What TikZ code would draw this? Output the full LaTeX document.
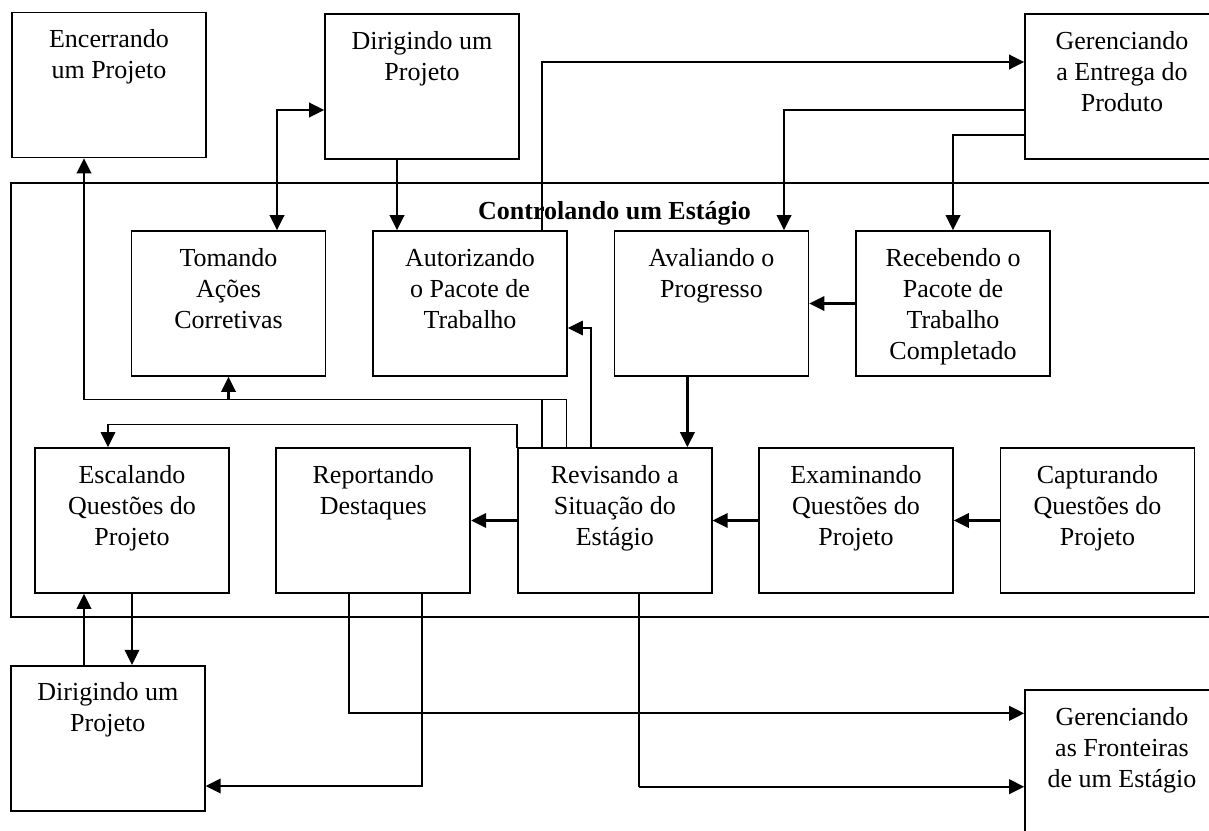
\documentclass[tikz,border=0pt]{standalone}
\usepackage{fontspec}
\setmainfont{Liberation Serif}
\usetikzlibrary{arrows.meta}
% top-aligned, centred text block filling a process box
\newcommand\boxlines[1]{\parbox[c][145pt][t]{194pt}{\centering\rule{0pt}{35pt}#1}}
\begin{document}
\begin{tikzpicture}[x=1pt,y=-1pt,
  box/.style={draw, line width=1.7pt, inner sep=0pt},
  link/.style={line width=1.4pt, line cap=rect},
  flow/.style={line width=2.2pt},
  tip/.style={-{Triangle[length=15pt,width=14.5pt]}},
  tips/.style={{Triangle[length=15pt,width=14.5pt]}-{Triangle[length=15pt,width=14.5pt]}},
  every node/.style={font=\fontsize{26}{31}\selectfont}]
\useasboundingbox (0,0) rectangle (1209,830);
\clip (0,0) rectangle (1209,830);

% stage frame
\draw[line width=1.7pt] (10.7,183) rectangle (1240,617.3);
\node[anchor=base] (title) at (614.5,219.5) {\bfseries Controlando um Estágio};

% processes
\node[box] (enc)  at (109,85)      {\boxlines{Encerrando\\um Projeto}};
\node[box] (dirT) at (422,86.5)    {\boxlines{Dirigindo um\\Projeto}};
\node[box] (gerE) at (1122,86.5)   {\boxlines{Gerenciando\\a Entrega do\\Produto}};
\node[box] (tom)  at (228.5,303.5) {\boxlines{Tomando\\Ações\\Corretivas}};
\node[box] (aut)  at (470,303.5)   {\boxlines{Autorizando\\o Pacote de\\Trabalho}};
\node[box] (ava)  at (711.5,303.5) {\boxlines{Avaliando o\\Progresso}};
\node[box] (rec)  at (953,303.5)   {\boxlines{Recebendo o\\Pacote de\\Trabalho\\Completado}};
\node[box] (esc)  at (132,520.5)   {\boxlines{Escalando\\Questões do\\Projeto}};
\node[box] (rep)  at (373.3,520.5) {\boxlines{Reportando\\Destaques}};
\node[box] (rev)  at (614.8,520.5) {\boxlines{Revisando a\\Situação do\\Estágio}};
\node[box] (exa)  at (856,520.5)   {\boxlines{Examinando\\Questões do\\Projeto}};
\node[box] (cap)  at (1097.5,520.5){\boxlines{Capturando\\Questões do\\Projeto}};
\node[box] (dirB) at (107.8,738.2) {\boxlines{Dirigindo um\\Projeto}};
\node[box] (fro)  at (1122,762.5)  {\boxlines{Gerenciando\\as Fronteiras\\de um Estágio}};

% routing points
\coordinate (authDrop) at (397,0);
\coordinate (corrBend) at (277,110);
\coordinate (deliv)    at (542,62);
\coordinate (assessB)  at (784,110);
\coordinate (recvB)    at (953,135);
\coordinate (revIn)    at (687.4,0);
\coordinate (revAut)   at (591,328);
\coordinate (retA)     at (566.5,399.3);
\coordinate (retB)     at (542,399.3);
\coordinate (retEnd)   at (84,399.3);
\coordinate (escB)     at (108,424.3);
\coordinate (escUp)    at (84,0);
\coordinate (repF)     at (349,713.3);
\coordinate (repD)     at (422,786);
\coordinate (revF)     at (639,786.7);

% connectors
\draw[flow,tip] (dirT.south -| authDrop) -- (aut.north -| authDrop);
\draw[flow,tips] (dirT.west |- corrBend) -- (corrBend) -- (tom.north -| corrBend);
\draw[link] (aut.north -| deliv) -- (deliv);
\draw[flow,tip] (deliv) -- (gerE.west |- deliv);
\draw[link] (gerE.west |- assessB) -- (assessB);
\draw[flow,tip] (assessB) -- (ava.north -| assessB);
\draw[link] (gerE.west |- recvB) -- (recvB);
\draw[flow,tip] (recvB) -- (rec.north);
\draw[flow,tip] (rec.west) -- (ava.east);
\draw[flow,tip] (ava.south -| revIn) -- (rev.north -| revIn);
\draw[flow,tip] (cap.west) -- (exa.east);
\draw[flow,tip] (exa.west) -- (rev.east);
\draw[flow,tip] (rev.west) -- (rep.east);
\draw[link,tip] (rev.north -| revAut) -- (revAut) -- (aut.east |- revAut);
\draw[link] (rev.north -| retA) -- (retA) -- (retEnd);
\draw[link] (rev.north -| retB) -- (retB);
\draw[flow,tip] (retEnd) -- (enc.south -| retEnd);
\draw[flow,tip] (tom.south |- retEnd) -- (tom.south);
\draw[link,tip] (rev.north west) |- (escB) -- (esc.north -| escB);
\draw[flow,tip] (esc.south) -- (dirB.north -| esc.south);
\draw[flow,tip] (dirB.north -| escUp) -- (esc.south -| escUp);
\draw[link] (rep.south -| repF) -- (repF);
\draw[flow,tip] (repF) -- (fro.west |- repF);
\draw[link] (rep.south -| repD) -- (repD);
\draw[flow,tip] (repD) -- (dirB.east |- repD);
\draw[link] (rev.south -| revF) -- (revF);
\draw[flow,tip] (revF) -- (fro.west |- revF);
\end{tikzpicture}
\end{document}
